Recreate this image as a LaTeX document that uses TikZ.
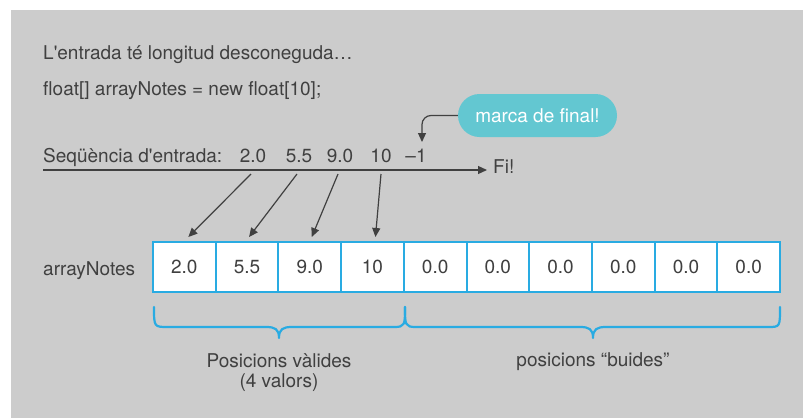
\documentclass[tikz,border=0pt]{standalone}
\usepackage{fontspec}
\setmainfont{TeX Gyre Heros}[Ligatures=TeXOff]
\usetikzlibrary{arrows.meta,calc}
\definecolor{bg}{RGB}{204,204,204}
\definecolor{txt}{RGB}{64,64,64}
\definecolor{cellblue}{RGB}{41,171,226}
\definecolor{bubble}{RGB}{99,199,209}
\begin{document}
\begin{tikzpicture}[x=1pt,y=-1pt,
  every node/.style={font=\fontsize{19}{23}\selectfont, text=txt, inner sep=0pt},
  lbl/.style={anchor=base west},
  num/.style={anchor=base},
  cell/.style={draw=cellblue, line width=2pt, fill=white, minimum width=62.7pt, minimum height=50pt},
  arr/.style={draw=txt, line width=1.2pt, -{Triangle[length=9pt,width=8pt]}},
  brace/.style={draw=cellblue, line width=2.2pt, line cap=round, line join=round},
  bub/.style={fill=bubble, text=white, rounded corners=21.5pt, minimum width=159pt, minimum height=43pt}
]
\useasboundingbox (0,0) rectangle (803,418);
\fill[bg] (11,10) rectangle (803,418);

\node[lbl] (t1) at (43,59.5) {L'entrada té longitud desconeguda…};
\node[lbl] (t2) at (43,95) {float[] arrayNotes = new float[10];};

\node[lbl] (seq) at (43,162) {Seqüència d'entrada:};
\node[num] (s1) at (253,162) {2.0};
\node[num] (s2) at (299,162) {5.5};
\node[num] (s3) at (340,162) {9.0};
\node[num] (s4) at (381,162) {10};
\node[num] (m1) at (416,162) {–1};

\coordinate (lstart) at (43,170);
\coordinate (lend) at (487,170);
\node[anchor=west] (fi) at (493,167) {Fi!};
\draw[arr] (lstart) -- (lend);

\node[bub] (bb) at (537.5,115.5) {marca de final!};
\draw[arr, rounded corners=9pt] (bb.west) -| ($(m1.base)+(6,-20)$);

\node[lbl] (an) at (43,275) {arrayNotes};
\foreach \v [count=\i from 0] in {2.0,5.5,9.0,10,0.0,0.0,0.0,0.0,0.0,0.0}
  \node[cell] (c\i) at ({153+62.7*(\i+0.5)},267) {\v};

\draw[arr] ($(s1.base)+(-2,12)$) -- ($(c0.north)+(4,-4)$);
\draw[arr] ($(s2.base)+(-2,12)$) -- ($(c1.north)+(2,-4)$);
\draw[arr] ($(s3.base)+(-2,12)$) -- ($(c2.north)+(2,-4)$);
\draw[arr] ($(s4.base)+(0,12)$) -- ($(c3.north)+(3,-4)$);

\draw[brace] (154,307) .. controls (154,327) and (154,327) .. (168,327) -- (266,327)
  .. controls (275,327) and (279,329) .. (279,338)
  .. controls (279,329) and (283,327) .. (292,327) -- (394,327)
  .. controls (405,327) and (405,325) .. (405,307);
\draw[brace] (405,307) .. controls (405,325) and (405,327) .. (416,327) -- (580,327)
  .. controls (589,327) and (593,329) .. (593,338)
  .. controls (593,329) and (597,327) .. (606,327) -- (768,327)
  .. controls (780,327) and (780,327) .. (780,307);

\node[num] (p1) at (279,367) {Posicions vàlides};
\node[num] (p2) at (279,387) {(4 valors)};
\node[num] (p3) at (593,366) {posicions “buides”};
\end{tikzpicture}
\end{document}
